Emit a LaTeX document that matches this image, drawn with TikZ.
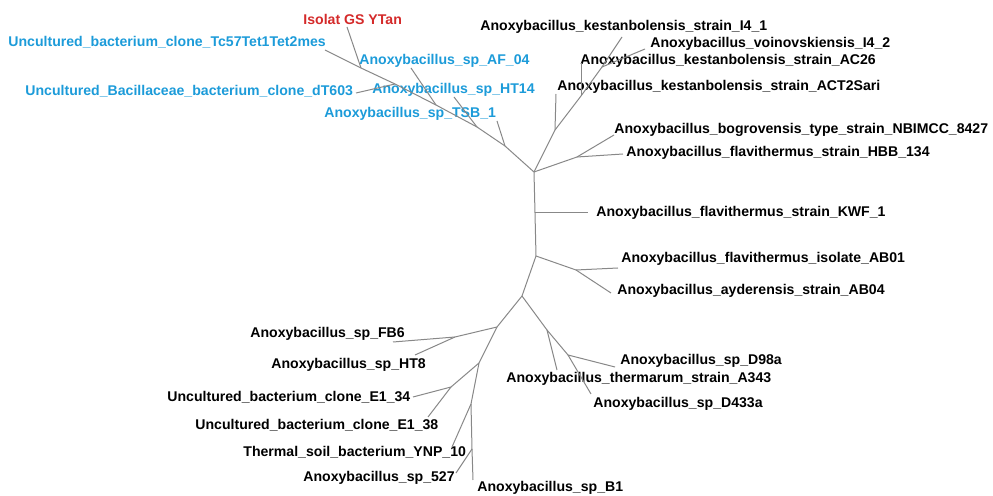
\documentclass[tikz,border=0pt]{standalone}
\usepackage{fontspec}
\setmainfont{Liberation Sans}
\usepackage{tikz}
\definecolor{cladeblue}{HTML}{1C9BD9}
\definecolor{isolred}{HTML}{D42A2A}
\definecolor{branchgray}{HTML}{888888}

\begin{document}
\begin{tikzpicture}[
            x=0.5pt, y=-0.5pt,
            font=\fontsize{7.05}{8.5}\selectfont\bfseries,
            taxon/.style={anchor=west, inner sep=0pt, text=black},
            ourclade/.style={taxon, text=cladeblue},
            isolate/.style={taxon, text=isolred},
            branch/.style={draw=branchgray, line width=0.5pt}
        ]
            \useasboundingbox (0,0) rectangle (993,496);

            % internal nodes
            \coordinate (hub) at (534,172);
            \coordinate (jTsb) at (505,146);
            \coordinate (jHt) at (477,127);
            \coordinate (jAf) at (436,105);
            \coordinate (jDt) at (395,84);
            \coordinate (jIso) at (361,68);
            \coordinate (jAct) at (555,130);
            \coordinate (jAc) at (581,96);
            \coordinate (jIv) at (602,67);
            \coordinate (jBog) at (577,157);
            \coordinate (jKwf) at (535,213);
            \coordinate (jFla) at (536,256);
            \coordinate (jAb) at (576,270);
            \coordinate (jLow) at (522,296);
            \coordinate (jTh) at (547,330);
            \coordinate (jD) at (568,355);
            \coordinate (jMix) at (497,327);
            \coordinate (jFb) at (455,337);
            \coordinate (jSoil) at (479,363);
            \coordinate (jE) at (451,387);
            \coordinate (jYnp) at (471,404);
            \coordinate (jB) at (472,449);

            % branch tips
            \coordinate (tTc) at (325,50);
            \coordinate (tIso) at (347,27);
            \coordinate (tDt) at (356,93);
            \coordinate (tAf) at (411,68);
            \coordinate (tHt) at (454,97);
            \coordinate (tTsb) at (497,121);
            \coordinate (tI41) at (622,37);
            \coordinate (tI42) at (645,49);
            \coordinate (tAc) at (581,63);
            \coordinate (tAct) at (556,94);
            \coordinate (tBog) at (614,135);
            \coordinate (tHbb) at (623,154);
            \coordinate (tKwf) at (588,213);
            \coordinate (tAb1) at (618,268);
            \coordinate (tAb4) at (611,293);
            \coordinate (tTh) at (557,370);
            \coordinate (tD98) at (615,367);
            \coordinate (tD433) at (591,394);
            \coordinate (tFb) at (393,342);
            \coordinate (tHt8) at (415,355);
            \coordinate (tE34) at (413,397);
            \coordinate (tE38) at (428,417);
            \coordinate (tYnp) at (452,447);
            \coordinate (t527) at (456,473);
            \coordinate (tB1) at (473,480);

            % labels
            \node[isolate] (isolat) at (303,19) {Isolat GS YTan};
            \node[ourclade] (tc57) at (8,42) {Uncultured\_bacterium\_clone\_Tc57Tet1Tet2mes};
            \node[ourclade] (af04) at (359,61) {Anoxybacillus\_sp\_AF\_04};
            \node[ourclade] (dt603) at (25,91) {Uncultured\_Bacillaceae\_bacterium\_clone\_dT603};
            \node[ourclade] (ht14) at (372,90) {Anoxybacillus\_sp\_HT14};
            \node[ourclade] (tsb1) at (324,114) {Anoxybacillus\_sp\_TSB\_1};
            \node[taxon] (i41) at (480,27) {Anoxybacillus\_kestanbolensis\_strain\_I4\_1};
            \node[taxon] (i42) at (650,44) {Anoxybacillus\_voinovskiensis\_I4\_2};
            \node[taxon] (ac26) at (580,61) {Anoxybacillus\_kestanbolensis\_strain\_AC26};
            \node[taxon] (act2) at (557,87) {Anoxybacillus\_kestanbolensis\_strain\_ACT2Sari};
            \node[taxon] (nbimcc) at (614,130) {Anoxybacillus\_bogrovensis\_type\_strain\_NBIMCC\_8427};
            \node[taxon] (hbb) at (626,153) {Anoxybacillus\_flavithermus\_strain\_HBB\_134};
            \node[taxon] (kwf) at (596,213) {Anoxybacillus\_flavithermus\_strain\_KWF\_1};
            \node[taxon] (ab01) at (621,259) {Anoxybacillus\_flavithermus\_isolate\_AB01};
            \node[taxon] (ab04) at (617,291) {Anoxybacillus\_ayderensis\_strain\_AB04};
            \node[taxon] (d98a) at (620,361) {Anoxybacillus\_sp\_D98a};
            \node[taxon] (a343) at (506,379) {Anoxybacillus\_thermarum\_strain\_A343};
            \node[taxon] (d433a) at (593,404) {Anoxybacillus\_sp\_D433a};
            \node[taxon] (fb6) at (250,334) {Anoxybacillus\_sp\_FB6};
            \node[taxon] (ht8) at (271,365) {Anoxybacillus\_sp\_HT8};
            \node[taxon] (e134) at (167,397) {Uncultured\_bacterium\_clone\_E1\_34};
            \node[taxon] (e138) at (195,425) {Uncultured\_bacterium\_clone\_E1\_38};
            \node[taxon] (ynp10) at (243,452) {Thermal\_soil\_bacterium\_YNP\_10};
            \node[taxon] (sp527) at (303,478) {Anoxybacillus\_sp\_527};
            \node[taxon] (b1) at (477,488) {Anoxybacillus\_sp\_B1};

            % branches
            \draw[branch] (hub) -- (jTsb) -- (jHt) -- (jAf) -- (jDt) -- (jIso) -- (tTc);
            \draw[branch] (jIso) -- (tIso);
            \draw[branch] (jDt) -- (tDt);
            \draw[branch] (jAf) -- (tAf);
            \draw[branch] (jHt) -- (tHt);
            \draw[branch] (jTsb) -- (tTsb);
            \draw[branch] (hub) -- (jAct) -- (jAc) -- (jIv) -- (tI41);
            \draw[branch] (jIv) -- (tI42);
            \draw[branch] (jAc) -- (tAc);
            \draw[branch] (jAct) -- (tAct);
            \draw[branch] (hub) -- (jBog) -- (tBog);
            \draw[branch] (jBog) -- (tHbb);
            \draw[branch] (hub) -- (jKwf) -- (jFla) -- (jLow);
            \draw[branch] (jKwf) -- (tKwf);
            \draw[branch] (jFla) -- (jAb) -- (tAb1);
            \draw[branch] (jAb) -- (tAb4);
            \draw[branch] (jLow) -- (jTh) -- (tTh);
            \draw[branch] (jTh) -- (jD) -- (tD98);
            \draw[branch] (jD) -- (tD433);
            \draw[branch] (jLow) -- (jMix) -- (jFb) -- (tFb);
            \draw[branch] (jFb) -- (tHt8);
            \draw[branch] (jMix) -- (jSoil) -- (jE) -- (tE34);
            \draw[branch] (jE) -- (tE38);
            \draw[branch] (jSoil) -- (jYnp) -- (tYnp);
            \draw[branch] (jYnp) -- (jB) -- (tB1);
            \draw[branch] (jB) -- (t527);
        \end{tikzpicture}
\end{document}
